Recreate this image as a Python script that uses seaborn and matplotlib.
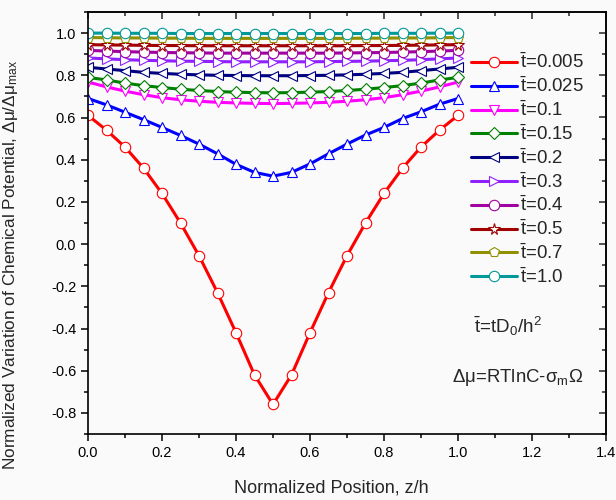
import numpy as np
import pandas as pd
import matplotlib
matplotlib.use("Agg")
import matplotlib.pyplot as plt
import seaborn as sns
from matplotlib.ticker import MultipleLocator

# normalized position z/h
z = [0.0, 0.05, 0.1, 0.15, 0.2, 0.25, 0.3, 0.35, 0.4, 0.45, 0.5,
     0.55, 0.6, 0.65, 0.7, 0.75, 0.8, 0.85, 0.9, 0.95, 1.0]

t_005 = [0.61, 0.54, 0.46, 0.36, 0.24, 0.10, -0.055, -0.23, -0.42, -0.62, -0.76,
         -0.62, -0.42, -0.23, -0.055, 0.10, 0.24, 0.36, 0.46, 0.54, 0.61]
t_025 = [0.69, 0.66, 0.625, 0.59, 0.553, 0.515, 0.474, 0.428, 0.378, 0.34, 0.322,
         0.34, 0.38, 0.428, 0.474, 0.517, 0.553, 0.595, 0.627, 0.663, 0.69]
t_01 = [0.768, 0.745, 0.725, 0.708, 0.694, 0.684, 0.677, 0.672, 0.669, 0.667, 0.666,
        0.667, 0.669, 0.672, 0.677, 0.684, 0.694, 0.708, 0.725, 0.745, 0.768]
t_015 = [0.79, 0.778, 0.763, 0.751, 0.742, 0.734, 0.728, 0.723, 0.72, 0.718, 0.717,
         0.718, 0.72, 0.723, 0.728, 0.734, 0.742, 0.751, 0.763, 0.778, 0.79]
t_02 = [0.838, 0.83, 0.822, 0.814, 0.809, 0.805, 0.802, 0.8, 0.799, 0.798, 0.798,
        0.798, 0.799, 0.8, 0.802, 0.805, 0.809, 0.814, 0.822, 0.83, 0.838]
t_03 = [0.882, 0.878, 0.874, 0.871, 0.869, 0.867, 0.866, 0.865, 0.864, 0.864, 0.864,
        0.864, 0.864, 0.865, 0.866, 0.867, 0.869, 0.871, 0.874, 0.878, 0.882]
t_04 = [0.918, 0.915, 0.912, 0.91, 0.908, 0.907, 0.906, 0.905, 0.905, 0.905, 0.905,
        0.905, 0.905, 0.905, 0.906, 0.907, 0.908, 0.91, 0.912, 0.915, 0.918]
t_05 = [0.945, 0.944, 0.943, 0.942, 0.941, 0.941, 0.94, 0.94, 0.94, 0.94, 0.94,
        0.94, 0.94, 0.94, 0.94, 0.941, 0.941, 0.942, 0.943, 0.944, 0.945]
t_07 = [0.979, 0.978, 0.977, 0.977, 0.976, 0.976, 0.975, 0.975, 0.975, 0.975, 0.975,
        0.975, 0.975, 0.975, 0.975, 0.976, 0.976, 0.977, 0.977, 0.978, 0.979]
t_10 = [1.0, 1.0, 0.999, 0.999, 0.999, 0.998, 0.998, 0.998, 0.998, 0.998, 0.998,
        0.998, 0.998, 0.998, 0.998, 0.998, 0.999, 0.999, 0.999, 1.0, 1.0]

labels = ["0.005", "0.025", "0.1", "0.15", "0.2", "0.3", "0.4", "0.5", "0.7", "1.0"]
series = [t_005, t_025, t_01, t_015, t_02, t_03, t_04, t_05, t_07, t_10]
colors = ["#FF0000", "#0000FF", "#FF00FF", "#008000", "#000080",
          "#9020FF", "#A000A0", "#A00000", "#909000", "#009999"]
markers = ["o", "^", "v", "D", "<", ">", "o", "*", "p", "o"]
msizes = [7.5, 7.5, 7.5, 6.5, 7.5, 7.5, 7.5, 8.5, 7.5, 7.5]

sns.set_theme(style="ticks")
plt.rcParams["font.family"] = ["Liberation Sans", "DejaVu Sans"]
plt.rcParams["mathtext.fontset"] = "custom"
plt.rcParams["mathtext.rm"] = "Liberation Sans"
plt.rcParams["mathtext.it"] = "Liberation Sans"
plt.rcParams["mathtext.bf"] = "Liberation Sans:bold"

fig = plt.figure(figsize=(6.16, 5.0), dpi=100, facecolor="#fafafa")
ax = fig.add_axes([88 / 616, 66 / 500, 518 / 616, 422 / 500])
ax.set_facecolor("#fafafa")

for lab, vals, col, mk, ms in zip(labels, series, colors, markers, msizes):
    df = pd.DataFrame({"z": z, "v": vals})
    sns.lineplot(data=df, x="z", y="v", ax=ax, color=col, lw=2.2,
                 marker=mk, markersize=ms, markerfacecolor="white",
                 markeredgecolor=col, markeredgewidth=0.8,
                 label=r"$\bar{t}$=" + lab)

ax.set_xlim(0, 1.4)
ax.set_ylim(-0.9, 1.1)
ax.xaxis.set_major_locator(MultipleLocator(0.2))
ax.xaxis.set_minor_locator(MultipleLocator(0.1))
yt = np.round(np.arange(-0.8, 1.01, 0.2), 1) + 0.0
ax.set_yticks(yt)
ax.set_yticklabels([f"{v:.1f}" for v in yt])
ax.yaxis.set_minor_locator(MultipleLocator(0.1))
ax.tick_params(which="both", direction="out", labelsize=10.5, width=1.1, colors="black")
ax.tick_params(which="major", length=5)
ax.tick_params(which="minor", length=3)
for sp in ax.spines.values():
    sp.set_linewidth(1.2)
    sp.set_color("black")

# mirrored inward ticks on top and right
top = ax.secondary_xaxis("top")
top.xaxis.set_major_locator(MultipleLocator(0.2))
top.xaxis.set_minor_locator(MultipleLocator(0.1))
top.tick_params(which="both", direction="in", labeltop=False, width=1.1)
top.tick_params(which="major", length=5)
top.tick_params(which="minor", length=3)
right = ax.secondary_yaxis("right")
right.yaxis.set_major_locator(MultipleLocator(0.2))
right.yaxis.set_minor_locator(MultipleLocator(0.1))
right.tick_params(which="both", direction="in", labelright=False, width=1.1)
right.tick_params(which="major", length=5)
right.tick_params(which="minor", length=3)

ax.set_xlabel("Normalized Position, z/h", fontsize=13)
ax.set_ylabel(r"Normalized Variation of Chemical Potential, Δμ/Δμ$_{\mathrm{max}}$", fontsize=12.4)
ax.xaxis.set_label_coords(0.47, -0.108)
ax.yaxis.set_label_coords(-0.131, 0.40)

ax.legend(loc="upper left", bbox_to_anchor=(0.739, 0.903), frameon=False,
          borderpad=0, borderaxespad=0, handlelength=2.5, handletextpad=0.12,
          labelspacing=0.23, fontsize=13.4)

ax.text(0.81, 0.254, r"$\bar{t}$=tD$_0$/h$^2$", transform=ax.transAxes,
        ha="center", va="center", fontsize=13.6)
ax.text(0.83, 0.135, r"Δμ=RTlnC-σ$_{\mathrm{m}}$Ω", transform=ax.transAxes,
        ha="center", va="center", fontsize=13.4)

fig.savefig("out.png", dpi=100, facecolor=fig.get_facecolor())
